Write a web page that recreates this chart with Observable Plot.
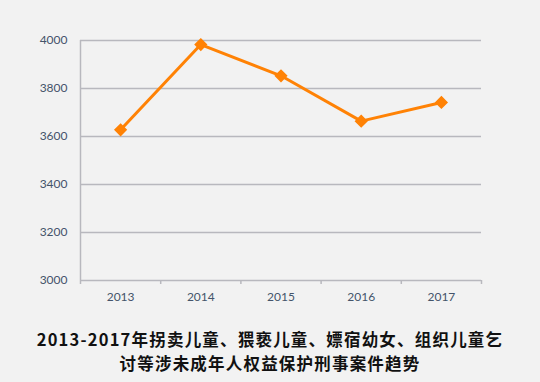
<!DOCTYPE html>
<html><head><meta charset="utf-8">
<script src="https://cdn.jsdelivr.net/npm/d3@7"></script>
<script src="https://cdn.jsdelivr.net/npm/@observablehq/plot@0.6"></script>
<style>
html,body{margin:0;padding:0;background:#f2f2f2;}
#chart{width:540px;height:382px;position:relative;overflow:hidden;}
.t{position:absolute;left:0;width:540px;text-align:center;font-family:"Noto Sans CJK SC",sans-serif;font-weight:bold;font-size:16.5px;letter-spacing:1.2px;line-height:20px;color:#111;white-space:nowrap;}
</style></head>
<body><div id="chart"><div id="plot"></div>
<div class="t" style="top:329px">2013-2017年拐卖儿童、猥亵儿童、嫖宿幼女、组织儿童乞</div>
<div class="t" style="top:353px">讨等涉未成年人权益保护刑事案件趋势</div></div>
<script>
const years = [2013, 2014, 2015, 2016, 2017];
const cases = [3628, 3983, 3853, 3664, 3742];
const yTicks = [3000, 3200, 3400, 3600, 3800, 4000];

const data = years.map((y, i) => ({year: y, value: cases[i]}));
const bounds = d3.range(years.length + 1).map(i => years[0] - 0.5 + i);
const orange = "#ff8205";
const grey = "#b8b8be";
const txt = "#44546a";

const chart = Plot.plot({
  width: 540,
  height: 305,
  marginTop: 40,
  marginBottom: 25,
  marginLeft: 80,
  marginRight: 59,
  style: {background: "transparent", fontFamily: "Lato, 'DejaVu Sans', sans-serif", fontSize: "12px", color: txt},
  x: {domain: [bounds[0], bounds[bounds.length - 1]]},
  y: {domain: [3000, 4000]},
  marks: [
    Plot.gridY(yTicks, {stroke: grey, strokeOpacity: 1, strokeWidth: 1.5}),
    Plot.ruleX([bounds[0]], {stroke: grey, strokeWidth: 1.5}),
    Plot.axisY(yTicks, {tickSize: 0, tickPadding: 13, tickFormat: d => String(d), fill: txt, fontSize: 12, label: null}),
    Plot.axisX(bounds, {tickSize: 4, tickFormat: () => "", stroke: grey, strokeWidth: 1.5, label: null}),
    Plot.axisX(years, {tickSize: 0, tickPadding: 12, tickFormat: d => String(d), fill: txt, fontSize: 12, label: null}),
    Plot.line(data, {x: "year", y: "value", stroke: orange, strokeWidth: 3}),
    Plot.dot(data, {x: "year", y: "value", symbol: "diamond2", r: 5, fill: orange, stroke: orange})
  ]
});
document.getElementById("plot").appendChild(chart);
</script>
</body></html>
